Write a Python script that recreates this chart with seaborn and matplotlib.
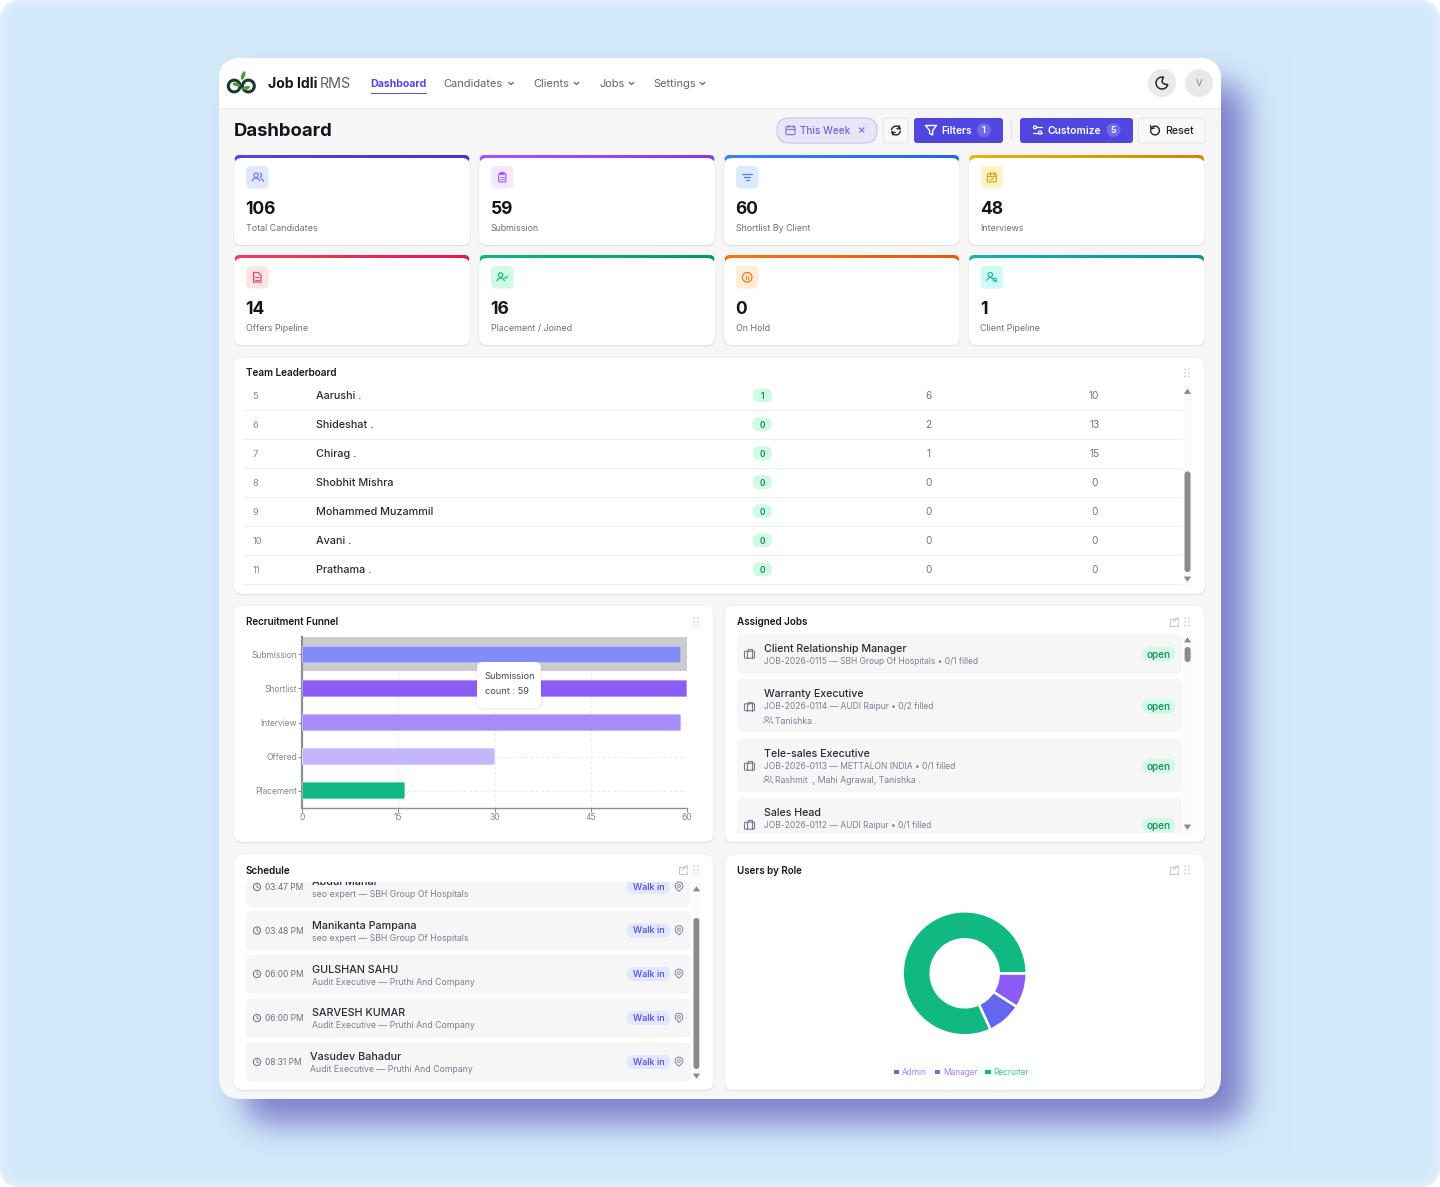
import numpy as np
import matplotlib
matplotlib.use("Agg")
import matplotlib.pyplot as plt
from matplotlib.patches import FancyBboxPatch, Circle, Rectangle, Polygon, Ellipse
import seaborn as sns

# ---------- data ----------
kpi_values = [106, 59, 60, 48, 14, 16, 0, 1]
kpi_labels = ["Total Candidates", "Submission", "Shortlist By Client", "Interviews",
              "Offers Pipeline", "Placement / Joined", "On Hold", "Client Pipeline"]
kpi_bar0 = ["#4f46e5", "#a855f7", "#3b82f6", "#eab308", "#f43f5e", "#10b981", "#f97316", "#14b8a6"]
kpi_bar1 = ["#4338ca", "#9333ea", "#2563eb", "#ca8a04", "#e11d48", "#059669", "#ea580c", "#0d9488"]
kpi_tint = ["#e0e7ff", "#f3e8ff", "#dbeafe", "#fef3c7", "#ffe4e6", "#d1fae5", "#ffedd5", "#ccfbf1"]
kpi_icon = ["#6366f1", "#a855f7", "#3b82f6", "#d9a325", "#f43f5e", "#10b981", "#f97316", "#14b8a6"]

lb_rank = [5, 6, 7, 8, 9, 10, 11]
lb_names = ["Aarushi .", "Shideshat .", "Chirag .", "Shobhit Mishra", "Mohammed Muzammil", "Avani .", "Prathama ."]
lb_badge = [1, 0, 0, 0, 0, 0, 0]
lb_col3 = [6, 2, 1, 0, 0, 0, 0]
lb_col4 = [10, 13, 15, 0, 0, 0, 0]

funnel_labels = ["Submission", "Shortlist", "Interview", "Offered", "Placement"]
funnel_counts = [59, 60, 59, 30, 16]
funnel_colors = ["#818cf8", "#8b5cf6", "#a78bfa", "#c4b5fd", "#10b981"]
funnel_ticks = [0, 15, 30, 45, 60]

job_titles = ["Client Relationship Manager", "Warranty Executive", "Tele-sales Executive", "Sales Head"]
job_subs = ["JOB-2026-0115 — SBH Group Of Hospitals • 0/1 filled",
            "JOB-2026-0114 — AUDI Raipur • 0/2 filled",
            "JOB-2026-0113 — METTALON INDIA • 0/1 filled",
            "JOB-2026-0112 — AUDI Raipur • 0/1 filled"]
job_people = ["", "Tanishka .", "Rashmit ., Mahi Agrawal, Tanishka .", ""]

sch_times = ["03:47 PM", "03:48 PM", "06:00 PM", "06:00 PM", "08:31 PM"]
sch_names = ["Abdul Mahar", "Manikanta Pampana", "GULSHAN SAHU", "SARVESH KUMAR", "Vasudev Bahadur"]
sch_subs = ["seo expert — SBH Group Of Hospitals", "seo expert — SBH Group Of Hospitals",
            "Audit Executive — Pruthi And Company", "Audit Executive — Pruthi And Company",
            "Audit Executive — Pruthi And Company"]

role_labels = ["Admin", "Manager", "Recruiter"]
role_counts = [1, 1, 9]
role_colors = ["#6366f1", "#8b5cf6", "#10b981"]
role_text = ["#8b8df5", "#a47ff8", "#34c795"]

# ---------- setup ----------
sns.set_theme(style="white")
FONT = "Inter"
plt.rcParams["font.family"] = [FONT, "DejaVu Sans"]
FS = 1.06
W, H = 1440, 1187
fig = plt.figure(figsize=(14.4, 11.87), dpi=100)
ax = fig.add_axes([0, 0, 1, 1], zorder=0)
ax.set_xlim(0, W); ax.set_ylim(H, 0); ax.axis("off"); ax.set_autoscale_on(False)
over = fig.add_axes([0, 0, 1, 1], zorder=5)
over.set_xlim(0, W); over.set_ylim(H, 0); over.axis("off"); over.set_autoscale_on(False)


def hexrgb(c):
    return np.array(matplotlib.colors.to_rgb(c))


def rr_mask(x0, y0, x1, y1, r):
    yy, xx = np.mgrid[0:H, 0:W]
    xx = xx + .5; yy = yy + .5
    dx = np.maximum(np.maximum(x0 + r - xx, xx - (x1 - r)), 0)
    dy = np.maximum(np.maximum(y0 + r - yy, yy - (y1 - r)), 0)
    return (np.hypot(dx, dy) <= r).astype(float)


def blur(m, s):
    rad = int(3 * s)
    k = np.exp(-0.5 * (np.arange(-rad, rad + 1) / s) ** 2); k /= k.sum()
    pad = np.pad(m, rad, mode="constant")
    a = np.apply_along_axis(lambda v: np.convolve(v, k, mode="same"), 0, pad)
    a = np.apply_along_axis(lambda v: np.convolve(v, k, mode="same"), 1, a)
    return a[rad:-rad, rad:-rad]


# background + shadow
page = rr_mask(0, 0, W, H, 18)
inner = blur(page, 6)
bgc = hexrgb("#eef7fe")[None, None] * (1 - inner[..., None]) + hexrgb("#d2e9fa")[None, None] * inner[..., None]
sh = blur(rr_mask(244, 83, 1246, 1124, 25), 15)[..., None]
img = bgc * (1 - sh) + hexrgb("#7f83cc")[None, None] * sh
img = img * page[..., None] + (1 - page[..., None])
ax.imshow(img, extent=(0, W, H, 0), aspect="auto", zorder=0, interpolation="nearest")


def rbox(x0, y0, x1, y1, r, fc, ec="none", lw=0, z=2, a=None, target=None, clip=None):
    t = target or ax
    p = FancyBboxPatch((x0, y0), x1 - x0, y1 - y0, boxstyle=f"round,pad=0,rounding_size={r}",
                       fc=fc, ec=ec, lw=lw, zorder=z, alpha=a)
    t.add_patch(p)
    if clip is not None:
        p.set_clip_path(clip)
    return p


def T(x, y, s, px=9.5, c="#2a2a3a", w="normal", ha="left", va="center", z=6, target=None, clip=None):
    t = (target or ax).text(x, y + px * 0.11, s, fontsize=px * 0.72 * FS, color=c, fontweight=w, ha=ha, va=va, zorder=z)
    if clip is not None:
        t.set_clip_on(True)
        t.set_clip_path(clip)
    return t


def L(pts, c, lw=0.9, z=5, clip=None):
    pts = np.array(pts)
    l, = ax.plot(pts[:, 0], pts[:, 1], color=c, lw=lw, zorder=z, solid_capstyle="round", solid_joinstyle="round")
    if clip is not None:
        l.set_clip_path(clip)
    return l


def arc(x, y, r, a0, a1, c, lw=0.9, z=5):
    t = np.radians(np.linspace(a0, a1, 30))
    return L(np.c_[x + r * np.cos(t), y - r * np.sin(t)], c, lw, z)


def C(x, y, r, fc="none", ec="none", lw=0.9, z=5):
    p = Circle((x, y), r, fc=fc, ec=ec, lw=lw, zorder=z)
    ax.add_patch(p)
    return p


def tri(x, y, up=True, c="#8a8a8a", s=3.6):
    d = -1 if up else 1
    ax.add_patch(Polygon([(x - s, y - d * 2.4), (x + s, y - d * 2.4), (x, y + d * 2.8)], fc=c, ec="none", zorder=5))


def chevron(x, y, c="#66667e"):
    L([(x - 2.3, y - 1.2), (x, y + 1.1), (x + 2.3, y - 1.2)], c, .9)


def dots(x, y, c="#c9c9cf"):
    for dx in (-1.8, 1.8):
        for dy in (-3.6, 0, 3.6):
            C(x + dx, y + dy, .85, fc=c)


def ext(x, y, c="#c6c6d0"):
    L([(x - .5, y - 3.5), (x - 4, y - 3.5), (x - 4, y + 4), (x + 3.5, y + 4), (x + 3.5, y + .5)], c, .8)
    L([(x - .5, y), (x + 4, y - 4.5)], c, .8)
    L([(x + 1, y - 4.5), (x + 4, y - 4.5), (x + 4, y - 1.5)], c, .8)


def person(x, y, c, lw=.8, s=1.0):
    C(x, y - 2.2 * s, 2.2 * s, ec=c, lw=lw)
    arc(x, y + 4.8 * s, 4 * s, 20, 160, c, lw)


def i_people(x, y, c, lw=.75, s=1.0):
    person(x - 1.2 * s, y, c, lw, s)
    arc(x + 2.2 * s, y - 2.2 * s, 2.2 * s, -70, 70, c, lw)
    arc(x + 3 * s, y + 4.8 * s, 3.4 * s, 10, 80, c, lw)


def i_clip(x, y, c):
    rbox(x - 3.6, y - 3.8, x + 3.6, y + 4.6, 1.2, "none", c, .85, z=5)
    rbox(x - 1.8, y - 5, x + 1.8, y - 2.8, .5, "none", c, .8, z=5)
    L([(x - 1.8, y), (x + 1.8, y)], c, .6); L([(x - 1.8, y + 2), (x + 1.8, y + 2)], c, .6)


def i_filter(x, y, c):
    L([(x - 4.8, y - 3), (x + 4.8, y - 3)], c, .85); L([(x - 3, y), (x + 3, y)], c, .85); L([(x - 1.3, y + 3), (x + 1.3, y + 3)], c, .85)


def i_cal(x, y, c, check=True, lw=.85):
    rbox(x - 4.5, y - 3.6, x + 4.5, y + 4.6, 1.2, "none", c, lw, z=5)
    L([(x - 4.5, y - .9), (x + 4.5, y - .9)], c, lw)
    L([(x - 2.2, y - 5), (x - 2.2, y - 2.6)], c, lw); L([(x + 2.2, y - 5), (x + 2.2, y - 2.6)], c, lw)
    if check:
        L([(x - 1.6, y + 1.6), (x - .3, y + 2.8), (x + 1.8, y + .8)], c, .7)


def i_doc(x, y, c):
    ax.add_patch(Polygon([(x - 3.6, y - 4.8), (x + 1.2, y - 4.8), (x + 3.8, y - 2), (x + 3.8, y + 4.8), (x - 3.6, y + 4.8)],
                         fc="none", ec=c, lw=.85, zorder=5, joinstyle="round"))
    L([(x - 1.8, y), (x + 1.8, y)], c, .7); L([(x - 1.8, y + 2.3), (x + 1.8, y + 2.3)], c, .7)


def i_pcheck(x, y, c):
    person(x - 1.6, y, c, .85)
    L([(x + 2.4, y - .2), (x + 3.6, y + 1), (x + 5.6, y - 1.2)], c, .8)


def i_pause(x, y, c):
    C(x, y, 4.8, ec=c, lw=.85)
    L([(x - 1, y - 1.6), (x - 1, y + 1.6)], c, .7); L([(x + 1, y - 1.6), (x + 1, y + 1.6)], c, .7)


def i_psearch(x, y, c):
    person(x - 1.5, y - .4, c, .85)
    C(x + 3, y + 2.4, 1.5, ec=c, lw=.8)
    L([(x + 4.1, y + 3.5), (x + 5.1, y + 4.5)], c, .8)


def i_brief(x, y, c="#76769a", clip=None):
    rbox(x - 5, y - 2.8, x + 5, y + 4.2, 1.1, "none", c, .8, z=5, clip=clip)
    L([(x - 2.2, y - 2.8), (x - 2.2, y + 4.2)], c, .8, clip=clip); L([(x + 2.2, y - 2.8), (x + 2.2, y + 4.2)], c, .8, clip=clip)
    L([(x - 2, y - 2.8), (x - 2, y - 4.6), (x + 2, y - 4.6), (x + 2, y - 2.8)], c, .8, clip=clip)


def i_clock(x, y, c="#77778f"):
    C(x, y, 3.6, ec=c, lw=.8)
    L([(x, y - 2), (x, y), (x + 1.5, y + .8)], c, .7)


def i_pin(x, y, c="#8d8da5"):
    t = np.radians(np.linspace(-35, 215, 30))
    pts = list(np.c_[x + 3.8 * np.cos(t), y - 1 - 3.8 * np.sin(t)]) + [(x, y + 4.4)]
    ax.add_patch(Polygon(pts, closed=True, fc="none", ec=c, lw=.8, zorder=5, joinstyle="round"))
    C(x, y - 1, 1.4, ec=c, lw=.7)


def card(x0, y0, x1, y1, r=8):
    rbox(x0 - .6, y0 - .2, x1 + .6, y1 + 1.6, r, "#000000", a=.035, z=2)
    rbox(x0 - .2, y0, x1 + .2, y1 + .7, r, "#000000", a=.05, z=2)
    rbox(x0, y0, x1, y1, r, "#ffffff", z=2.5)


# window
win = rbox(219, 58, 1221, 1099, 22, "#f6f6f6", z=1)
nav = Rectangle((219, 58), 1002, 50, fc="#ffffff", ec="none", zorder=1.2)
ax.add_patch(nav); nav.set_clip_path(win)
ax.add_patch(Rectangle((219, 108), 1002, 1.4, fc="#ececec", ec="none", zorder=1.2))

# logo
dark = "#1c3a34"
C(234.2, 86, 5.9, ec=dark, lw=2.2, z=4)
C(248.4, 86, 5.9, ec=dark, lw=2.2, z=4)
for (ex, ey, ew, eh, ang, col) in [(243.2, 75.5, 3.6, 9, 20, "#4d9a38"), (236.5, 84.5, 8, 3.6, 15, "#4d9a38"), (246, 88, 8, 3.6, -15, "#4d9a38")]:
    ax.add_patch(Ellipse((ex, ey), ew, eh, angle=ang, fc=col, ec="none", zorder=4.5))

T(267.7, 83, "Job Idli", 13.3, "#17171f", "bold")
T(319.5, 83, "RMS", 13.4, "#5d5d6b")
T(370.5, 83, "Dashboard", 10, "#4f46e5", "bold")
ax.add_patch(Rectangle((371, 92.6), 56, 1.4, fc="#5d50e6", ec="none", zorder=4))
for label, x, chev in [("Candidates", 443.6, 511), ("Clients", 533, 576.5), ("Jobs", 599, 631.5), ("Settings", 653.6, 702.5)]:
    T(x, 83, label, 10.4, "#5f5f78")
    chevron(chev, 83.5)
C(1162, 83, 14, fc="#e9e9ea", z=3)
C(1199, 83, 14, fc="#e9e9ea", z=3)
T(1199, 83, "V", 9, "#77778a", ha="center", w="normal")
# moon
t1 = np.radians(np.linspace(75, 345, 40))
outer = np.c_[1162 + 6 * np.cos(t1), 83 - 6 * np.sin(t1)]
A_, B_, K_ = outer[-1], outer[0], np.array([1159.3, 84.1])
u = np.linspace(0, 1, 20)[:, None]
moon = np.r_[outer, (1 - u) ** 2 * A_ + 2 * u * (1 - u) * K_ + u ** 2 * B_]
ax.add_patch(Polygon(moon, fc="none", ec="#22222c", lw=1.05, zorder=5, joinstyle="round"))

T(233.6, 130, "Dashboard", 17.4, "#14141e", "bold")

# toolbar
rbox(777, 118, 877, 143, 12.4, "#e8e6f6", "#cfcbee", 1, z=3)
i_cal(790.5, 130, "#8078e6", check=False, lw=.85)
T(800, 130, "This Week", 9.3, "#6e62e0", "medium")
L([(859.5, 127.8), (864, 132.2)], "#7a72e2", .9); L([(864, 127.8), (859.5, 132.2)], "#7a72e2", .9)
rbox(883.5, 118, 908, 143, 3, "#f8f8f8", "#e6e6e8", .8, z=3)
arc(896, 130.5, 4.4, 20, 170, "#22222c", 1.0); arc(896, 130.5, 4.4, 200, 350, "#22222c", 1.0)
L([(899, 125.5), (900.2, 129), (896.8, 128.6)], "#22222c", .9); L([(893, 135), (891.8, 132), (895.2, 132.4)], "#22222c", .9)
rbox(914, 118, 1003, 143, 3, "#5146e0", z=3)
ax.add_patch(Polygon([(925.5, 125.5), (936.5, 125.5), (932.6, 130.5), (932.6, 135), (929.6, 133.6), (929.6, 130.5)], fc="none", ec="#ffffff", lw=1, zorder=5, joinstyle="round"))
T(941.5, 130, "Filters", 9.6, "#ffffff", "semibold")
C(984, 130, 7, fc="#7269e8", z=4); T(984, 130, "1", 8.5, "#ffffff", "semibold", ha="center")
L([(1011, 121), (1011, 139)], "#e2e2e4", .8)
rbox(1020, 118, 1133, 143, 3, "#5146e0", z=3)
L([(1033, 127.3), (1042, 127.3)], "#ffffff", .9); L([(1033, 132.5), (1042, 132.5)], "#ffffff", .9)
C(1035, 127.3, 1.5, fc="#5146e0", ec="#ffffff", lw=.9, z=6); C(1040, 132.5, 1.5, fc="#5146e0", ec="#ffffff", lw=.9, z=6)
T(1048, 130, "Customize", 9.7, "#ffffff", "semibold")
C(1113.5, 130, 7, fc="#7269e8", z=4); T(1113.5, 130, "5", 8.5, "#ffffff", "semibold", ha="center")
rbox(1138.5, 118, 1205, 143, 3, "#f8f8f8", "#e6e6e8", .8, z=3)
arc(1155, 130.5, 4.4, 150, -190, "#22222c", 1.0)
L([(1150.5, 125.5), (1151.2, 129), (1154.4, 128)], "#22222c", .9)
T(1164.7, 130, "Reset", 10, "#22222c", "medium")

# KPI cards
kx0 = [234, 479, 724, 968.6]
kx1 = [470, 715, 959.6, 1204.6]
icons = [i_people, i_clip, i_filter, i_cal, i_doc, i_pcheck, i_pause, i_psearch]
for i in range(8):
    col = i % 4; off = 100 * (i // 4)
    x0, x1 = kx0[col], kx1[col]
    y0, y1 = 155 + off, 245 + off
    rbox(x0 - .6, y0 + 3, x1 + .6, y1 + 1.6, 8, "#000000", a=.04, z=2)
    rbox(x0 - .2, y0 + 3, x1 + .2, y1 + .7, 8, "#000000", a=.06, z=2)
    bar = rbox(x0 + .5, y0, x1 - .5, y0 + 8, 5, "none", z=2.2)
    grad = np.linspace(hexrgb(kpi_bar0[i]), hexrgb(kpi_bar1[i]), 64)[None]
    im = ax.imshow(grad, extent=(x0, x1, y0 + 8, y0), aspect="auto", zorder=2.2)
    im.set_clip_path(bar)
    rbox(x0, y0 + 3, x1, y1, 8, "#ffffff", z=2.5)
    rbox(x0 + 12, y0 + 11, x0 + 34.5, y0 + 33.5, 5, kpi_tint[i], z=3)
    icons[i](x0 + 23.2, y0 + 22.3, kpi_icon[i])
    T(x0 + 11.4, y0 + 52.7, str(kpi_values[i]), 16.5, "#14141e", "bold")
    T(x0 + 11.6, y0 + 72.6, kpi_labels[i], 8.4, "#6d6d88")

# leaderboard
card(234, 358, 1204.6, 594)
T(245.6, 372.2, "Team Leaderboard", 9.4, "#17171f", "semibold")
dots(1187, 373)
ax.add_patch(Rectangle((1183.5, 385), 8, 200, fc="#fafafa", ec="none", zorder=3))
tri(1187.5, 391.5, True); tri(1187.5, 579, False)
rbox(1184.5, 471.5, 1190.5, 572, 2.8, "#8b8b8b", z=4)
for i, rank in enumerate(lb_rank):
    yc = 395.2 + i * 29.02
    L([(244, yc + 14.6), (1182, yc + 14.6)], "#f0f0f2", .8, z=3)
    T(252.6, yc, str(rank), 8.8, "#85859a")
    T(316, yc, lb_names[i], 10.2, "#2a2a38", "medium")
    rbox(752.6, yc - 7, 772, yc + 7, 6.8, "#d1fae5", z=3)
    T(762.3, yc + .2, str(lb_badge[i]), 8, "#0f8a5f", "semibold", ha="center")
    T(928.7, yc, str(lb_col3[i]), 9.5, "#72728c", ha="center")
    T(1094.2, yc, str(lb_col4[i]), 9.5, "#72728c", ha="center")

# funnel card
card(234, 606, 713.5, 842)
T(245.6, 621, "Recruitment Funnel", 9.3, "#17171f", "semibold")
dots(696, 622)


# funnel chart (real seaborn bars in its own axes)
def px_rect(x0, y0, x1, y1):
    return [x0 / W, 1 - y1 / H, (x1 - x0) / W, (y1 - y0) / H]


fax = fig.add_axes(px_rect(302, 637.3, 687.3, 807.7), zorder=1, facecolor="none")
sns.barplot(x=funnel_counts, y=funnel_labels, hue=funnel_labels, palette=funnel_colors, legend=False,
            orient="h", width=0.5, saturation=1, ax=fax, zorder=3)
fax.set_xlim(0, 60); fax.set_ylim(4.5, -0.5)
fax.set_xticks(funnel_ticks)
fax.set_axisbelow(True)
fax.grid(True, linestyle=(0, (2.5, 2.5)), color="#ebebed", lw=.8)
fax.axhspan(-0.5, 0.5, color="#cccccc", lw=0, zorder=1.5)
for sp in ("top", "right"):
    fax.spines[sp].set_visible(False)
for sp in ("left", "bottom"):
    fax.spines[sp].set_color("#8f8f8f"); fax.spines[sp].set_linewidth(1.0)
fax.spines["left"].set_linewidth(1.6)
fax.tick_params(axis="both", which="major", length=2.8, width=.8, color="#8f8f8f", labelcolor="#82829a",
                labelsize=8 * .72 * FS, pad=.8, bottom=True, left=True)
fax.set_xlabel(""); fax.set_ylabel("")
rx = 2.2 * 60 / 385.3; ry = 2.2 * 5 / 170.4
for c_ in fax.containers:
    for b in c_:
        clipper = FancyBboxPatch((-1, b.get_y()), b.get_width() + 1, b.get_height(),
                                 boxstyle=f"round,pad=0,rounding_size={rx}", mutation_aspect=ry / rx,
                                 transform=fax.transData, fc="none", ec="none")
        fax.add_patch(clipper)
        b.set_clip_path(clipper)
        col = np.array(b.get_facecolor()[:3])
        b.set_edgecolor(tuple(col * .55 + .45)); b.set_linewidth(1.2)

# tooltip
rbox(476, 662.5, 542, 710, 6, "#000000", a=.05, z=2, target=over)
rbox(477, 662, 541, 708, 6, "#ffffff", z=3, target=over)
T(484.7, 675.5, funnel_labels[0], 8.7, "#44444f", target=over)
T(484.7, 690.5, f"count : {funnel_counts[0]}", 8.7, "#44444f", target=over)

# assigned jobs
card(725, 606, 1204.6, 842)
T(736.6, 621, "Assigned Jobs", 9.35, "#17171f", "semibold")
ext(1174, 622); dots(1187, 622)
jclip = Rectangle((725, 625), 480, 208, transform=ax.transData)
ax.add_patch(Rectangle((1183, 634), 9.5, 199, fc="#fafafa", ec="none", zorder=3))
tri(1187.5, 640, True); tri(1187.5, 827, False)
rbox(1184.6, 647, 1190.6, 662, 2.8, "#8b8b8b", z=4)
j_top = [634, 679, 738.5, 798]
j_bot = [674, 732, 792, 860]
j_t = [648, 693, 752.5, 812]
j_s = [661, 706, 765.5, 825]
j_b = [654, 706.5, 766, 825]
for i in range(4):
    rbox(737, j_top[i], 1182, j_bot[i], 6, "#f6f6f6", z=3, clip=jclip)
    i_brief(749.5, j_b[i], clip=jclip)
    T(763.6, j_t[i], job_titles[i], 10.05, "#2a2a38", "medium", clip=jclip)
    T(763.6, j_s[i], job_subs[i], 8.0, "#7e7e98", clip=jclip)
    if job_people[i]:
        p = j_s[i] + 14.3
        i_people(767.6, p, "#8a8aa5", .6, .82)
        T(774.6, p, job_people[i], 8.25, "#7e7e98")
    rbox(1142, j_b[i] - 7, 1175, j_b[i] + 7, 6.8, "#d1fae5", z=4)
    T(1158.5, j_b[i] - .5, "open", 9.4, "#0f8a5f", "medium", ha="center")

# schedule
card(234, 855, 713.5, 1090)
T(245.6, 869.5, "Schedule", 9.4, "#17171f", "semibold")
ext(683, 870); dots(696, 870)
sclip = Rectangle((234, 882), 480, 204, transform=ax.transData)
ax.add_patch(Rectangle((692, 882), 9, 198, fc="#fafafa", ec="none", zorder=3))
tri(696.5, 889, True); tri(696.5, 1076, False)
rbox(693.5, 918, 699.3, 1069, 2.8, "#8b8b8b", z=4)
s_top = [860, 911, 955, 998.5, 1042.5]
s_bot = [907, 950, 994, 1037.5, 1081.5]
s_t = [887, 930.5, 974, 1018, 1062]
s_n = [880.5, 925, 968.5, 1012, 1055.5]
s_s = [894, 938, 981.5, 1025, 1069]
s_x = [311.5, 312, 312.5, 312.5, 310.5]
for i in range(5):
    rbox(246, s_top[i], 691, s_bot[i], 6, "#f6f6f6", z=3, clip=sclip)
    i_clock(257, s_t[i])
    T(265.2, s_t[i], sch_times[i], 7.9, "#6c6c84")
    T(s_x[i], s_n[i], sch_names[i], 10.2, "#2a2a38", "medium", clip=sclip)
    T(s_x[i], s_s[i], sch_subs[i], 8.25, "#7e7e98", clip=sclip)
    rbox(627, s_t[i] - 7, 670, s_t[i] + 7, 6.8, "#e0e7ff", z=4, clip=sclip)
    T(648.5, s_t[i] - .5, "Walk in", 8.6, "#4f46e5", "medium", ha="center", clip=sclip)
    i_pin(679, s_t[i])

# users by role
card(725, 855, 1204.6, 1090)
T(736.6, 869.5, "Users by Role", 9.2, "#17171f", "semibold")
ext(1174, 870); dots(1187, 870)
R = 62
cx, cy = 964.7, 973.3
dax = fig.add_axes(px_rect(cx - R, cy - R, cx + R, cy + R), zorder=1, facecolor="none")
dax.pie(role_counts, colors=role_colors, startangle=-360 * role_counts[0] * 2 / sum(role_counts), counterclock=True,
        radius=1.0, wedgeprops=dict(width=1 - 34 / R, edgecolor="white", linewidth=1.8))
dax.set_xlim(-1, 1); dax.set_ylim(-1, 1); dax.set_aspect("equal")
for x_sq, x_tx, lab, colr, tcol in zip([893.5, 934.6, 985], [902, 943, 993.6], role_labels, role_colors, role_text):
    ax.add_patch(Rectangle((x_sq, 1070), 5.5, 4, fc=colr, ec="none", zorder=4))
    T(x_tx, 1071.8, lab, 7.9, tcol)

fig.savefig("out.png", dpi=100)
